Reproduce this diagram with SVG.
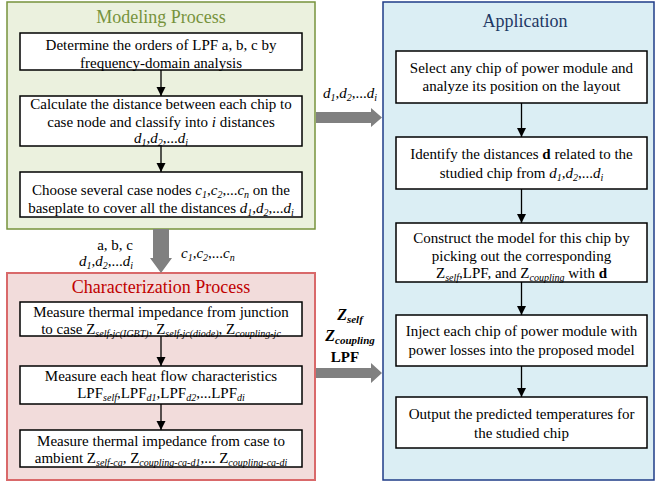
<svg xmlns="http://www.w3.org/2000/svg" width="655" height="482" viewBox="0 0 655 482" font-family="'Liberation Serif', 'Times New Roman', 'DejaVu Serif', serif">
<style>
text{font-family:'Liberation Serif','Times New Roman','DejaVu Serif',serif;font-size:15px;fill:#000;}
.t{text-anchor:middle;}
.i{font-style:italic;}
.s{font-size:10px;font-style:italic;}
.box{fill:#fff;stroke:#000;stroke-width:1.5;}
.ttl{font-size:18px;text-anchor:middle;}
.ln{stroke:#000;stroke-width:1.3;fill:none;marker-end:url(#ah);}
.g{fill:#808080;}
</style>
<defs>
<marker id="ah" markerUnits="userSpaceOnUse" markerWidth="10" markerHeight="10" refX="9" refY="5" orient="auto">
<path d="M0,0.5 L9,5 L0,9.5 Z" fill="#000"/>
</marker>
</defs>

<g id="modeling">
<rect x="7" y="2" width="308" height="227" fill="#ebf1de" stroke="#77933c" stroke-width="1.5"/>
<text class="ttl" x="161" y="23" style="fill:#77933c">Modeling Process</text>
</g>
<g id="characterization">
<rect x="7" y="273" width="308" height="207" fill="#f2dcdb" stroke="#d9696a" stroke-width="2"/>
<text class="ttl" x="161" y="293" style="fill:#c00000">Characterization Process</text>
</g>
<g id="application">
<rect x="383" y="2" width="271" height="478" fill="#dbeef4" stroke="#1f3c88" stroke-width="1.5"/>
<text class="ttl" x="525" y="27" style="fill:#1f3864">Application</text>
</g>

<g id="m1">
<rect class="box" x="20" y="33" width="282" height="37"/>
<text class="t" x="161" y="50">Determine the orders of LPF a, b, c by</text>
<text class="t" x="161" y="68">frequency-domain analysis</text>
</g>
<g id="m2">
<rect class="box" x="20" y="96" width="282" height="50"/>
<text class="t" x="161" y="109">Calculate the distance between each chip to</text>
<text class="t" x="161" y="127">case node and classify into <tspan class="i">i</tspan> distances</text>
<text class="t" x="161" y="143"><tspan class="i">d</tspan><tspan class="s" dy="3">1</tspan><tspan dy="-3">,</tspan><tspan class="i">d</tspan><tspan class="s" dy="3">2</tspan><tspan dy="-3">,...</tspan><tspan class="i">d</tspan><tspan class="s" dy="3">i</tspan></text>
</g>
<g id="m3">
<rect class="box" x="20" y="172" width="282" height="45"/>
<text class="t" x="161" y="195">Choose several case nodes <tspan class="i">c</tspan><tspan class="s" dy="3">1</tspan><tspan dy="-3">,</tspan><tspan class="i">c</tspan><tspan class="s" dy="3">2</tspan><tspan dy="-3">,...</tspan><tspan class="i">c</tspan><tspan class="s" dy="3">n</tspan><tspan dy="-3"> on the</tspan></text>
<text class="t" x="161" y="213">baseplate to cover all the distances <tspan class="i">d</tspan><tspan class="s" dy="3">1</tspan><tspan dy="-3">,</tspan><tspan class="i">d</tspan><tspan class="s" dy="3">2</tspan><tspan dy="-3">,...</tspan><tspan class="i">d</tspan><tspan class="s" dy="3">i</tspan></text>
</g>

<g id="c1">
<rect class="box" x="20" y="302" width="282" height="34"/>
<text class="t" x="161" y="317">Measure thermal impedance from junction</text>
<text class="t" x="161" y="334">to case Z<tspan class="s" dy="3">self-jc(IGBT)</tspan><tspan dy="-3">, Z</tspan><tspan class="s" dy="3">self-jc(diode)</tspan><tspan dy="-3">, Z</tspan><tspan class="s" dy="3">coupling-jc</tspan></text>
</g>
<g id="c2">
<rect class="box" x="20" y="366" width="282" height="38"/>
<text class="t" x="161" y="381">Measure each heat flow characteristics</text>
<text class="t" x="161" y="398">LPF<tspan class="s" dy="3">self</tspan><tspan dy="-3">,LPF</tspan><tspan class="s" dy="3">d1</tspan><tspan dy="-3">,LPF</tspan><tspan class="s" dy="3">d2</tspan><tspan dy="-3">,...LPF</tspan><tspan class="s" dy="3">di</tspan></text>
</g>
<g id="c3">
<rect class="box" x="20" y="430" width="282" height="37"/>
<text class="t" x="161" y="446">Measure thermal impedance from case to</text>
<text class="t" x="161" y="463">ambient Z<tspan class="s" dy="3">self-ca</tspan><tspan dy="-3">, Z</tspan><tspan class="s" dy="3">coupling-ca-d1</tspan><tspan dy="-3">,... Z</tspan><tspan class="s" dy="3">coupling-ca-di</tspan></text>
</g>

<g id="a1">
<rect class="box" x="396" y="51" width="251" height="52"/>
<text class="t" x="521.5" y="73">Select any chip of power module and</text>
<text class="t" x="521.5" y="91">analyze its position on the layout</text>
</g>
<g id="a2">
<rect class="box" x="396" y="137" width="251" height="52"/>
<text class="t" x="521.5" y="159">Identify the distances <tspan font-weight="bold">d</tspan> related to the</text>
<text class="t" x="521.5" y="178">studied chip from <tspan class="i">d</tspan><tspan class="s" dy="3">1</tspan><tspan dy="-3">,</tspan><tspan class="i">d</tspan><tspan class="s" dy="3">2</tspan><tspan dy="-3">,...</tspan><tspan class="i">d</tspan><tspan class="s" dy="3">i</tspan></text>
</g>
<g id="a3">
<rect class="box" x="396" y="223" width="251" height="59"/>
<text class="t" x="521.5" y="243">Construct the model for this chip by</text>
<text class="t" x="521.5" y="261">picking out the corresponding</text>
<text class="t" x="521.5" y="278">Z<tspan class="s" dy="3">self</tspan><tspan dy="-3">,LPF, and Z</tspan><tspan class="s" dy="3">coupling</tspan><tspan dy="-3"> with </tspan><tspan font-weight="bold">d</tspan></text>
</g>
<g id="a4">
<rect class="box" x="396" y="315" width="251" height="51"/>
<text class="t" x="521.5" y="336">Inject each chip of power module with</text>
<text class="t" x="521.5" y="355">power losses into the proposed model</text>
</g>
<g id="a5">
<rect class="box" x="396" y="397" width="251" height="51"/>
<text class="t" x="521.5" y="419">Output the predicted temperatures for</text>
<text class="t" x="521.5" y="438">the studied chip</text>
</g>

<g id="connectors">
<line class="ln" x1="161" y1="70" x2="161" y2="96"/>
<line class="ln" x1="161" y1="146" x2="161" y2="172"/>
<line class="ln" x1="161" y1="336" x2="161" y2="366"/>
<line class="ln" x1="161" y1="404" x2="161" y2="430"/>
<line class="ln" x1="521.5" y1="103" x2="521.5" y2="137"/>
<line class="ln" x1="521.5" y1="189" x2="521.5" y2="223"/>
<line class="ln" x1="521.5" y1="282" x2="521.5" y2="315"/>
<line class="ln" x1="521.5" y1="366" x2="521.5" y2="397"/>
<polygon class="g" points="153,229 169,229 169,258 172,258 161,273 150,258 153,258"/>
<polygon class="g" points="316,112 371,112 371,108 382,117.5 371,127 371,123 316,123"/>
<polygon class="g" points="316,368 371,368 371,363 382,373 371,383 371,378 316,378"/>
<text x="133" y="250" style="text-anchor:end">a, b, c</text>
<text x="133" y="266" style="text-anchor:end"><tspan class="i">d</tspan><tspan class="s" dy="3">1</tspan><tspan dy="-3">,</tspan><tspan class="i">d</tspan><tspan class="s" dy="3">2</tspan><tspan dy="-3">,...</tspan><tspan class="i">d</tspan><tspan class="s" dy="3">i</tspan></text>
<text x="181" y="258"><tspan class="i">c</tspan><tspan class="s" dy="3">1</tspan><tspan dy="-3">,</tspan><tspan class="i">c</tspan><tspan class="s" dy="3">2</tspan><tspan dy="-3">,...</tspan><tspan class="i">c</tspan><tspan class="s" dy="3">n</tspan></text>
<text x="350" y="98" class="t"><tspan class="i">d</tspan><tspan class="s" dy="3">1</tspan><tspan dy="-3">,</tspan><tspan class="i">d</tspan><tspan class="s" dy="3">2</tspan><tspan dy="-3">,...</tspan><tspan class="i">d</tspan><tspan class="s" dy="3">i</tspan></text>
<text x="350" y="320" class="t" style="font-weight:bold;font-style:italic;font-size:16px">Z<tspan class="s" dy="3" style="font-weight:bold;font-size:11px">self</tspan></text>
<text x="350" y="341" class="t" style="font-weight:bold;font-style:italic;font-size:16px">Z<tspan class="s" dy="3" style="font-weight:bold;font-size:11px">coupling</tspan></text>
<text x="345" y="362" class="t" style="font-weight:bold">LPF</text>
</g>
</svg>
